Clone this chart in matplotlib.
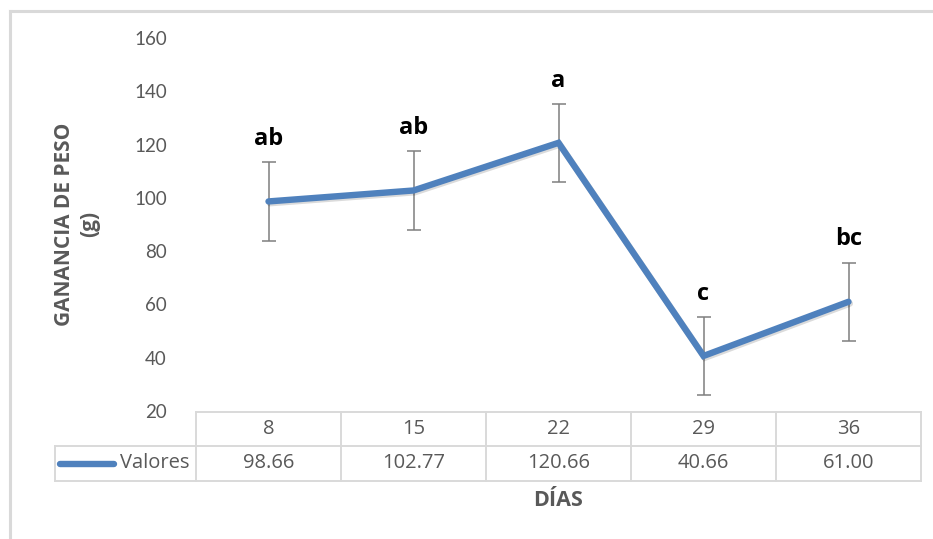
import matplotlib
matplotlib.use("Agg")
import matplotlib.pyplot as plt
import matplotlib.patheffects as pe
from matplotlib.transforms import blended_transform_factory
from matplotlib.lines import Line2D

# Data
dias = ["8", "15", "22", "29", "36"]
ganancia = [98.66, 102.77, 120.66, 40.66, 61.00]
error = [14.7, 14.7, 14.7, 14.7, 14.7]
letras = ["ab", "ab", "a", "c", "bc"]
serie = "Valores"
yticks = [20, 40, 60, 80, 100, 120, 140, 160]

W, H = 933, 539
fig = plt.figure(figsize=(W / 100, H / 100), dpi=100)
fig.patch.set_facecolor("white")

def fx(px):
    return px / W

def fy(py):
    return 1 - py / H

gray_txt = "#595959"
grid_c = "#d9d9d9"
blue = "#4f81bd"

ax = fig.add_axes([fx(196), fy(411), fx(921) - fx(196), fy(38) - fy(411)])
x = list(range(len(dias)))
ax.set_xlim(-0.5, len(dias) - 0.5)
ax.set_ylim(20, 160)
for s in ax.spines.values():
    s.set_visible(False)
ax.set_xticks([])
ax.set_yticks(yticks)
ax.tick_params(axis="y", length=0, pad=21, labelsize=13.5, labelcolor=gray_txt)
for t in ax.get_yticklabels():
    t.set_fontfamily("Lato")

# error bars
ax.errorbar(x, ganancia, yerr=error, fmt="none", ecolor="#7f7f7f",
            elinewidth=1.1, capsize=4.8, capthick=1.1, zorder=2)
# line
ax.plot(x, ganancia, color=blue, lw=4.6, solid_capstyle="round",
        solid_joinstyle="miter", zorder=3,
        path_effects=[pe.SimpleLineShadow(offset=(1.0, -1.3), alpha=0.14, shadow_color="black"),
                      pe.Normal()])

# significance letters
for xi, v, e, l in zip(x, ganancia, error, letras):
    ax.annotate(l, (xi, v + e), xytext=(0, 8), textcoords="offset points",
                ha="center", va="bottom", fontsize=17, fontweight="bold",
                family="Open Sans", color="black", zorder=4)

# data table under the axis
tr = blended_transform_factory(ax.transData, ax.transAxes)
ax_h = 411 - 38
r0 = (411 - 412) / ax_h
r1 = (411 - 446) / ax_h
r2 = (411 - 481) / ax_h
left_data = -0.5 - (196 - 55) / 145.0
lc = dict(color=grid_c, lw=1.4, transform=tr, clip_on=False, zorder=1)
n = len(dias)
ax.add_line(Line2D([-0.5, n - 0.5], [r0, r0], **lc))
ax.add_line(Line2D([left_data, n - 0.5], [r1, r1], **lc))
ax.add_line(Line2D([left_data, n - 0.5], [r2, r2], **lc))
for i in range(n + 1):
    ax.add_line(Line2D([i - 0.5, i - 0.5], [r0, r2], **lc))
ax.add_line(Line2D([left_data, left_data], [r1, r2], **lc))

for xi, d, v in zip(x, dias, ganancia):
    ax.text(xi, (r0 + r1) / 2, d, transform=tr, ha="center", va="center",
            fontsize=14.5, color=gray_txt, family="Open Sans")
    ax.text(xi, (r1 + r2) / 2, f"{v:.2f}", transform=tr, ha="center", va="center",
            fontsize=14.5, color=gray_txt, family="Open Sans")

# legend key inside the table
sw0 = -0.5 - (196 - 60) / 145.0
sw1 = -0.5 - (196 - 114) / 145.0
ax.add_line(Line2D([sw0, sw1], [(r1 + r2) / 2] * 2, color=blue, lw=4.6,
                   solid_capstyle="round", transform=tr, clip_on=False))
ax.text(-0.5 - 6 / 145.0, (r1 + r2) / 2, serie, transform=tr, ha="right",
        va="center", fontsize=14.5, color=gray_txt, family="Open Sans")

# axis titles
fig.text(fx(77), fy(224), "GANANCIA DE PESO\n(g)", rotation=90, ha="center",
         va="center", fontsize=15, fontweight="bold", color=gray_txt,
         family="Open Sans", linespacing=1.25)
fig.text(fx(558), fy(500), "DÍAS", ha="center", va="center", fontsize=15.5,
         fontweight="bold", color=gray_txt, family="Open Sans")

# chart frame
fig.add_artist(Line2D([fx(10), 1], [fy(11), fy(11)], color=grid_c, lw=2.2))
fig.add_artist(Line2D([fx(10), fx(10)], [fy(11), 0], color=grid_c, lw=2.2))

fig.savefig("out.png", dpi=100, facecolor="white")
